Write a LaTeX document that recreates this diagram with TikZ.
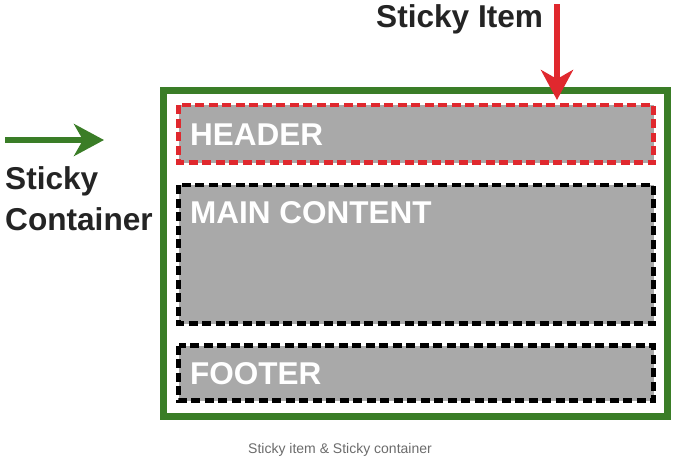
\documentclass[tikz,border=0pt]{standalone}
\usepackage{fontspec}
\setmainfont{Liberation Sans}
\usetikzlibrary{arrows.meta}
\definecolor{cgreen}{HTML}{3A7D27}
\definecolor{cred}{HTML}{E0282E}
\definecolor{cgray}{HTML}{A9A9A9}
\definecolor{ctext}{HTML}{242424}
\definecolor{ccap}{HTML}{6B6B6B}
\begin{document}
\begin{tikzpicture}[x=1pt,y=-1pt,
  box/.style={fill=cgray,line width=4.5pt,dash pattern=on 9pt off 4.5pt},
  boxlabel/.style={anchor=base west,inner sep=0pt,text=white,font=\fontsize{31.5}{31.5}\selectfont\bfseries},
  biglabel/.style={inner sep=0pt,text=ctext,font=\fontsize{31.6}{41}\selectfont\bfseries},
  arr/.style={line width=5.5pt,-{Stealth[length=30pt,width=32pt,inset=9pt]}}]
\useasboundingbox (0,0) rectangle (680,458);
% container
\draw[cgreen,line width=7pt,fill=white] (163.5,90.5) rectangle (667.5,416.5);
% boxes
\draw[box,draw=cred] (178.5,105) rectangle (653.5,162.5);
\draw[box,draw=black] (178.5,185) rectangle (653.5,323.5);
\draw[box,draw=black] (178.5,345.5) rectangle (653.5,400.5);
\node[boxlabel] (hdr) at (190,145) {HEADER};
\node[boxlabel] (main) at (190,223) {MAIN CONTENT};
\node[boxlabel] (foot) at (190,384) {FOOTER};
% labels
\node[biglabel,anchor=base west] (item) at (376,27) {Sticky Item};
\node[biglabel,anchor=base west] (cont1) at (5,189) {Sticky};
\node[biglabel,anchor=base west] (cont2) at (5,230) {Container};
% arrows
\coordinate (ra) at (557,4);
\coordinate (rb) at (557,100);
\draw[arr,cred] (ra) -- (rb);
\coordinate (ga) at (5,140);
\coordinate (gb) at (104,140);
\draw[arr,cgreen] (ga) -- (gb);
% caption
\node[anchor=base,inner sep=0pt,text=ccap,font=\fontsize{14}{14}\selectfont] (cap) at (340,453) {Sticky item \& Sticky container};
\end{tikzpicture}
\end{document}
